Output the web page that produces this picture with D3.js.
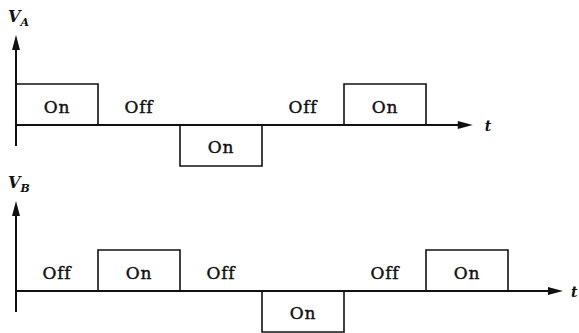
<!DOCTYPE html>
<html>
<head>
<meta charset="utf-8">
<script src="https://cdn.jsdelivr.net/npm/d3@7"></script>
<style>
  body { margin: 0; background: #fff; }
  svg { display: block; }
  .lbl { font-family: "DejaVu Serif", "Liberation Serif", serif; font-size: 17px; letter-spacing: 0.8px; fill: #111; stroke: #111; stroke-width: 0.45px; }
  .axlbl { font-family: "DejaVu Serif", "Liberation Serif", serif; font-weight: bold; font-style: italic; fill: #111; }
</style>
</head>
<body>
<svg width="579" height="333"></svg>
<script>
// time slots (each slot is one switching interval)
const slotStarts = [0, 1, 2, 3, 4, 5];
// +1 = positive On, -1 = negative On, 0 = Off
const levelsA = [1, 0, -1, 0, 1];
const labelsA = ["On", "Off", "On", "Off", "On"];
const levelsB = [0, 1, 0, -1, 0, 1];
const labelsB = ["Off", "On", "Off", "On", "Off", "On"];

const width = 579;
const height = 333;
const svg = d3.select("svg");

// shared time scale
const x = d3.scaleLinear().domain([0, 6]).range([16, 508]);

// draw one waveform panel
const drawPanel = (name, sub, levels, labels, base, tEnd) => {
  const y = d3.scaleLinear().domain([-1, 1]).range([base + 41, base - 41]);
  const g = svg.append("g");

  // vertical axis with arrow
  const axTop = base - 90;
  g.append("line")
    .attr("x1", x(0)).attr("x2", x(0))
    .attr("y1", axTop + 12).attr("y2", base + 21)
    .attr("stroke", "#111").attr("stroke-width", 2);
  g.append("path")
    .attr("d", `M${x(0)},${axTop} L${x(0) - 4},${axTop + 15} L${x(0) + 4},${axTop + 15} Z`)
    .attr("fill", "#111");

  // label V with subscript
  const t = g.append("text").attr("class", "axlbl")
    .attr("x", 8).attr("y", axTop - 13).style("font-size", "16px");
  t.append("tspan").text(name);
  t.append("tspan").text(sub).attr("dy", 4).attr("dx", 0).style("font-size", "11px");

  // time axis with arrow
  const xEnd = x(tEnd);
  g.append("line")
    .attr("x1", x(0)).attr("x2", xEnd - 12)
    .attr("y1", y(0)).attr("y2", y(0))
    .attr("stroke", "#111").attr("stroke-width", 2);
  g.append("path")
    .attr("d", `M${xEnd},${y(0)} L${xEnd - 15},${y(0) - 4} L${xEnd - 15},${y(0) + 4} Z`)
    .attr("fill", "#111");
  g.append("text").attr("class", "axlbl")
    .attr("x", Math.min(xEnd + 12, width - 8)).attr("y", y(0) + 6)
    .style("font-size", "14px").text("t");

  // pulses
  levels.forEach((lv, i) => {
    const x0 = x(slotStarts[i]), x1 = x(slotStarts[i] + 1);
    if (lv !== 0) {
      g.append("path")
        .attr("d", `M${x0},${y(0)} V${y(lv)} H${x1} V${y(0)}`)
        .attr("fill", "none").attr("stroke", "#111").attr("stroke-width", 1.6);
    }
    g.append("text").attr("class", "lbl")
      .attr("x", (x0 + x1) / 2)
      .attr("y", lv < 0 ? y(0) + 28 : y(0) - 12)
      .attr("text-anchor", "middle")
      .text(labels[i]);
  });
};

drawPanel("V", "A", levelsA, labelsA, 125, 5.57);
drawPanel("V", "B", levelsB, labelsB, 291, 6.67);
</script>
</body>
</html>
